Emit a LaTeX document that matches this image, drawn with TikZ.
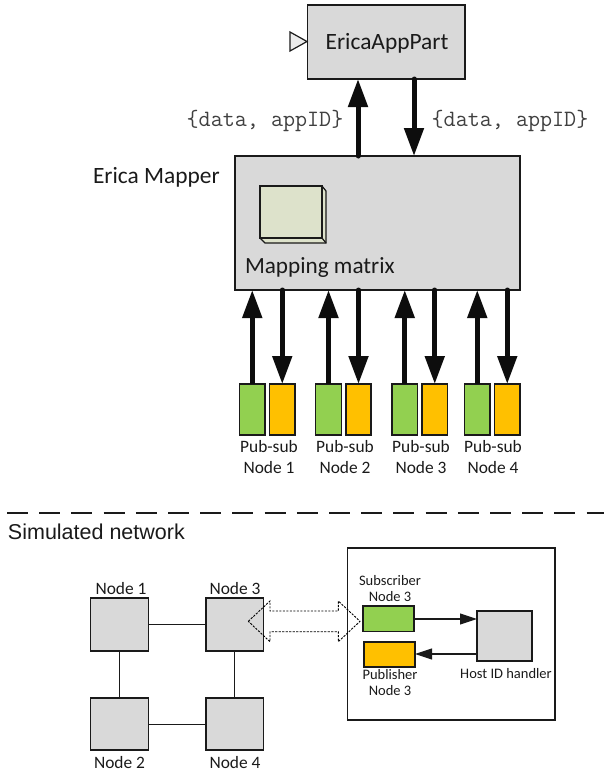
\documentclass[tikz,border=0pt]{standalone}
\usepackage{fontspec}
\setmainfont{Carlito}
\newfontfamily\arialf{Liberation Sans}
\usetikzlibrary{arrows.meta,positioning}
\definecolor{grayfill}{HTML}{D9D9D9}
\definecolor{greenfill}{HTML}{92D050}
\definecolor{orangefill}{HTML}{FFC000}
\definecolor{cubefill}{HTML}{DDE2CB}
\definecolor{inkc}{HTML}{1A1A1A}
\tikzset{
  x=1pt,y=-1pt,
  boxn/.style={draw=inkc,line width=1.2pt,inner sep=0pt,outer sep=0pt,anchor=north west},
  graybox/.style={boxn,fill=grayfill},
  greenbox/.style={boxn,fill=greenfill,line width=1.3pt},
  orangebox/.style={boxn,fill=orangefill,line width=1.3pt},
  txt/.style={inner sep=0pt,outer sep=0pt,font=\fontsize{17.4}{17.4}\selectfont,text=inkc},
  txts/.style={inner sep=0pt,outer sep=0pt,font=\fontsize{14.5}{14.5}\selectfont,text=inkc},
  monot/.style={inner sep=0pt,font=\ttfamily\fontsize{23.4}{23.4}\selectfont,text=black!75},
  thick arrow/.style={line width=5pt,-{Triangle[length=28pt,width=19pt,inset=0pt,sep=0pt]},draw=black!95,line cap=round},
  flat arrow/.style={thick arrow,line cap=butt},
  thin arrow/.style={line width=1.1pt,-{Triangle[length=17pt,width=11pt,inset=0pt]},draw=inkc},
  link/.style={line width=1.2pt,draw=inkc},
}
\newcommand{\bx}[6]{\node[#1,minimum width=#4pt-#2pt,minimum height=#5pt-#3pt] (#6) at (#2,#3) {};}
\begin{document}
\begin{tikzpicture}
\useasboundingbox (0,0) rectangle (604,774);
% top boxes
\bx{graybox}{307.5}{5}{465}{79}{app}
\node[txt,font=\fontsize{23.4}{23.4}\selectfont] (apptxt) at (387,43) {EricaAppPart};
\coordinate (trA) at (290,32);
\coordinate (trB) at (307,41.5);
\coordinate (trC) at (290,51);
\draw[link,fill=black!8] (trA) -- (trB) -- (trC) -- cycle;
\bx{graybox}{235}{156}{520}{290}{map}
\node[txt,font=\fontsize{23.4}{23.4}\selectfont,anchor=base west] (maplbl) at (93,183) {Erica Mapper};
\node[txt,font=\fontsize{23.2}{23.2}\selectfont,anchor=base west] (mattxt) at (245,273) {Mapping matrix};
% cube
\draw[link,fill=cubefill,line join=miter] (322,186) -- (326,191) -- (326,243) -- (265,243) -- (260,238) -- cycle;
\draw[link,fill=cubefill] (260,186) rectangle (322,238);
\draw[link] (322,238) -- (326,243);
% top arrows
\coordinate (upx) at (358,0);
\coordinate (downx) at (414,0);
\draw[thick arrow] (map.north -| upx) -- (app.south -| upx);
\draw[thick arrow] (app.south -| downx) -- (map.north -| downx);
\node[monot,anchor=base] (dl) at (265,126) {\{data, appID\}};
\node[monot,anchor=base] (dr) at (510,126) {\{data, appID\}};
% pub-sub
\bx{greenbox}{239.5}{384}{265}{435}{g1}
\bx{orangebox}{269.5}{384}{295}{435}{o1}
\bx{greenbox}{315.5}{384}{341.5}{435}{g2}
\bx{orangebox}{346}{384}{371}{435}{o2}
\bx{greenbox}{392}{384}{417.5}{435}{g3}
\bx{orangebox}{422}{384}{447.5}{435}{o3}
\bx{greenbox}{464.5}{384}{490}{435}{g4}
\bx{orangebox}{494.5}{384}{520}{435}{o4}
\foreach \i in {1,2,3,4}{
  \draw[flat arrow] (g\i.north) -- (g\i.north |- map.south);
  \draw[thick arrow] (o\i.north |- map.south) -- (o\i.north);
}
\node[txt] (p1) at (269,447) {Pub-sub};
\node[txt] (n1) at (269,468) {Node 1};
\node[txt] (p2) at (345,447) {Pub-sub};
\node[txt] (n2) at (345,468) {Node 2};
\node[txt] (p3) at (421,447) {Pub-sub};
\node[txt] (n3) at (421,468) {Node 3};
\node[txt] (p4) at (493,447) {Pub-sub};
\node[txt] (n4) at (493,468) {Node 4};
% separator
\coordinate (sepA) at (7,513);
\coordinate (sepB) at (604,513);
\draw[draw=inkc,line width=1.1pt,dash pattern=on 21pt off 11.2pt] (sepA) -- (sepB);
\node[txt,font=\arialf\fontsize{21.5}{21.5}\selectfont,anchor=base west] (simtxt) at (8,539) {Simulated network};
% network
\bx{graybox}{90.5}{598}{148.5}{651}{a1}
\bx{graybox}{206}{598}{263.5}{651}{a3}
\bx{graybox}{90.5}{698}{148.5}{750}{a2}
\bx{graybox}{206}{698}{263.5}{750}{a4}
\coordinate (row1) at (0,624.5);
\coordinate (row2) at (0,724.5);
\draw[link] (a1.east |- row1) -- (a3.west |- row1);
\draw[link] (a2.east |- row2) -- (a4.west |- row2);
\draw[link] (a1.south) -- (a2.north);
\draw[link] (a3.south) -- (a4.north);
\node[txt] (l1) at (121,589) {Node 1};
\node[txt] (l3) at (235,589) {Node 3};
\node[txt] (l2) at (119.5,763) {Node 2};
\node[txt] (l4) at (235,763) {Node 4};
% right panel
\bx{boxn}{347.5}{548}{555}{720}{panel}
\bx{greenbox}{363}{606}{414}{631.5}{sub}
\bx{orangebox}{364}{642}{415}{667}{pub}
\bx{graybox}{477}{611}{532}{661}{host}
\coordinate (subR) at (414,619);
\coordinate (hostL) at (477,654);
\draw[thin arrow] (subR) -- (host.west |- subR);
\draw[thin arrow] (hostL) -- (pub.east |- hostL);
\node[txts] (s1) at (390,581) {Subscriber};
\node[txts] (s2) at (390,597) {Node 3};
\node[txts] (q1) at (390,675) {Publisher};
\node[txts] (q2) at (390,691) {Node 3};
\node[txts] (hl) at (506,674) {Host ID handler};
% double arrow
\draw[draw=black,line width=0.9pt,dash pattern=on 2.2pt off 1.3pt,line join=miter]
 (248.3,621.3) -- (270,601) -- (270,611) -- (338.3,611) -- (338.3,601) -- (360,621.3)
 -- (338.3,641.7) -- (338.3,631.7) -- (270,631.7) -- (270,641.7) -- cycle;
\end{tikzpicture}
\end{document}
